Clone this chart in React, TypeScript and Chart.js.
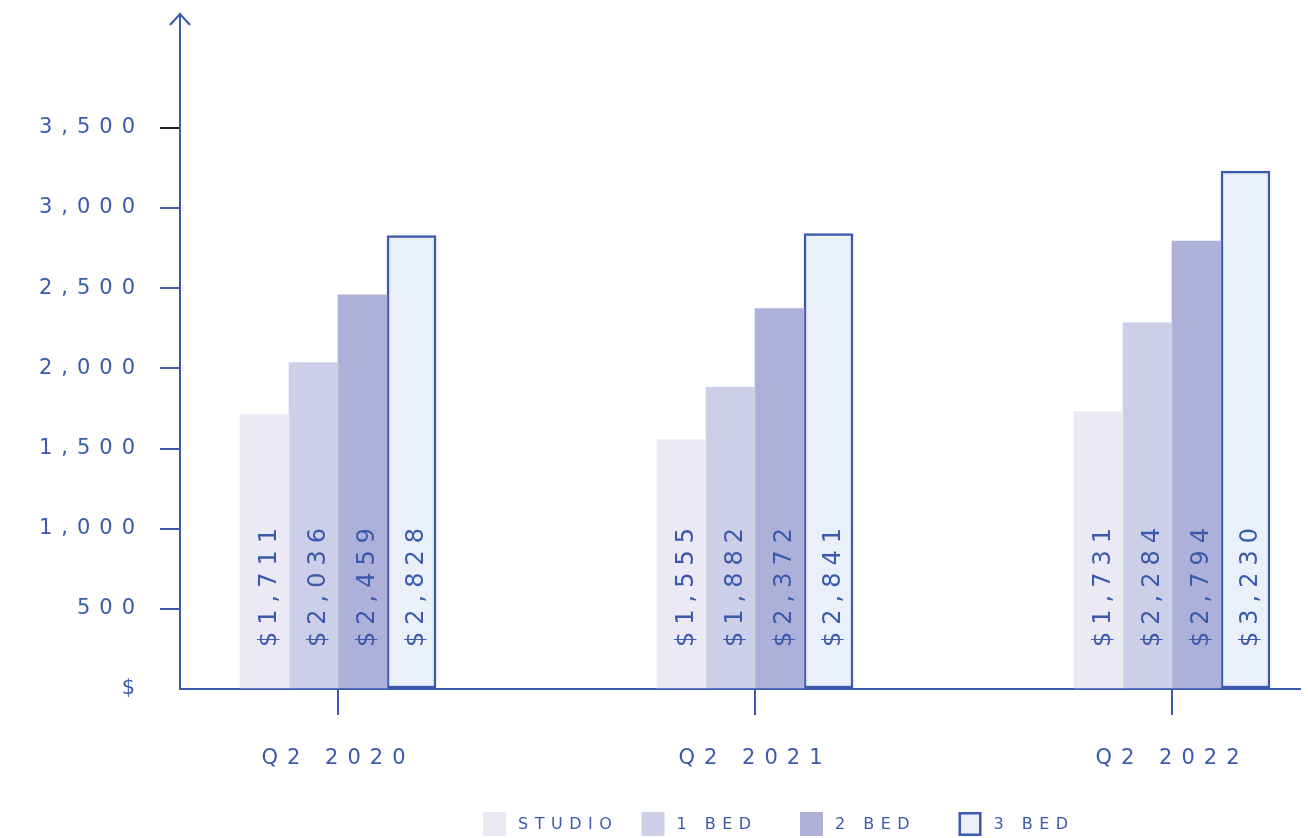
import { useEffect, useRef } from "react";
import { Chart, registerables } from "chart.js";

Chart.register(...registerables);

// ---- data ----
const categories = ["Q2 2020", "Q2 2021", "Q2 2022"];
const seriesLabels = ["STUDIO", "1 BED", "2 BED", "3 BED"];
const studio = [1711, 1555, 1731];
const oneBed = [2036, 1882, 2284];
const twoBed = [2459, 2372, 2794];
const threeBed = [2828, 2841, 3230];
const yTickValues = [0, 500, 1000, 1500, 2000, 2500, 3000, 3500];

// ---- style / layout ----
const BLUE = "#3b5aae";
const DARK = "#222222";
const FONT = "'DejaVu Sans', sans-serif";
const fillColors = ["#ebe9f4", "#cdcee8", "#adb1d9", "#e9f0fa"];
const Y_MAX = 4210;
const X_MIN = -0.379;
const X_MAX = 2.307;
const AXIS_SPACING = "9px";
const LEGEND_SPACING = "6.5px";
const BAR_LABEL_SPACING = "7px";
const LEGEND = { left: 483, step: 158.5, top: 812, boxW: 23, boxH: 24, textGap: 12, fontSize: 16 };

const spacingPlugin = {
  id: "letterSpacing",
  beforeUpdate(chart: any) {
    chart.ctx.letterSpacing = AXIS_SPACING;
  },
  beforeDraw(chart: any) {
    chart.ctx.letterSpacing = AXIS_SPACING;
  },
};

// legend drawn from the datasets (equal-width items, as in the reference)
const legendPlugin = {
  id: "evenLegend",
  afterDraw(chart: any) {
    const ctx = chart.ctx;
    ctx.save();
    ctx.letterSpacing = LEGEND_SPACING;
    ctx.font = `${LEGEND.fontSize}px ${FONT}`;
    ctx.textAlign = "left";
    ctx.textBaseline = "middle";
    chart.data.datasets.forEach((ds: any, i: number) => {
      const x = LEGEND.left + i * LEGEND.step;
      const y = LEGEND.top;
      ctx.fillStyle = ds.backgroundColor;
      ctx.fillRect(x, y, LEGEND.boxW, LEGEND.boxH);
      if (ds.borderWidth > 0) {
        ctx.strokeStyle = ds.borderColor;
        ctx.lineWidth = ds.borderWidth;
        const h = ds.borderWidth / 2;
        ctx.strokeRect(x + h, y + h, LEGEND.boxW - 2 * h, LEGEND.boxH - 2 * h);
      }
      ctx.fillStyle = BLUE;
      ctx.fillText(ds.label, x + LEGEND.boxW + LEGEND.textGap, y + LEGEND.boxH / 2 + 1);
    });
    ctx.restore();
  },
};

const barLabels = {
  id: "barLabels",
  afterDatasetsDraw(chart: any) {
    const ctx = chart.ctx;
    chart.data.datasets.forEach((ds: any, di: number) => {
      const meta = chart.getDatasetMeta(di);
      meta.data.forEach((bar: any, i: number) => {
        const v = ds.data[i].y;
        ctx.save();
        ctx.letterSpacing = BAR_LABEL_SPACING;
        ctx.font = `24px ${FONT}`;
        ctx.fillStyle = BLUE;
        ctx.translate(bar.x + 5, bar.base - 41);
        ctx.rotate(-Math.PI / 2);
        ctx.textAlign = "left";
        ctx.textBaseline = "middle";
        ctx.fillText("$" + v.toLocaleString("en-US"), 0, 0);
        ctx.restore();
      });
    });
  },
};

const axisArrow = {
  id: "axisArrow",
  afterDraw(chart: any) {
    const { left, top } = chart.chartArea;
    const ctx = chart.ctx;
    ctx.save();
    ctx.strokeStyle = BLUE;
    ctx.lineWidth = 2;
    ctx.beginPath();
    ctx.moveTo(left - 10, top + 11);
    ctx.lineTo(left, top);
    ctx.lineTo(left + 10, top + 11);
    ctx.stroke();
    ctx.restore();
  },
};

export default function App() {
  const ref = useRef<HTMLCanvasElement | null>(null);

  useEffect(() => {
    if (!ref.current) return;
    const seriesValues = [studio, oneBed, twoBed, threeBed];
    const datasets = seriesLabels.map((label, s) => ({
      label,
      data: categories.map((_, i) => ({ x: i, y: seriesValues[s][i] })),
      backgroundColor: fillColors[s],
      borderColor: s === 3 ? BLUE : fillColors[s],
      borderWidth: s === 3 ? 2.5 : 0,
      borderSkipped: false,
      barThickness: 49,
    }));

    const chart = new Chart(ref.current, {
      type: "bar",
      data: { datasets } as any,
      options: {
        animation: false,
        responsive: true,
        maintainAspectRatio: false,
        layout: { padding: { top: 14, right: 8, left: 0, bottom: 65 } },
        plugins: {
          tooltip: { enabled: false },
          legend: { display: false },
        },
        scales: {
          x: {
            type: "linear",
            min: X_MIN,
            max: X_MAX,
            offset: false,
            afterBuildTicks: (s: any) => {
              s.ticks = categories.map((_, i) => ({ value: i }));
            },
            afterFit: (s: any) => {
              s.height = 84;
              s.paddingLeft = 0;
              s.paddingRight = 0;
            },
            grid: {
              offset: false,
              drawOnChartArea: false,
              drawTicks: true,
              tickLength: 26,
              color: BLUE,
              lineWidth: 2,
            },
            border: { display: true, color: BLUE, width: 2 },
            ticks: {
              callback: (v: any) => categories[v] ?? "",
              color: BLUE,
              font: { family: FONT, size: 21 },
              padding: 31,
              maxRotation: 0,
              autoSkip: false,
            },
          },
          y: {
            min: 0,
            max: Y_MAX,
            afterBuildTicks: (s: any) => {
              s.ticks = yTickValues.map((v) => ({ value: v }));
            },
            afterFit: (s: any) => {
              s.width = 180;
              s.paddingTop = 0;
              s.paddingBottom = 0;
            },
            grid: {
              drawOnChartArea: false,
              tickLength: 20,
              lineWidth: 2,
              tickColor: (c: any) =>
                c.tick && c.tick.value === 0
                  ? "rgba(0,0,0,0)"
                  : c.tick && c.tick.value === 3500
                  ? DARK
                  : BLUE,
            },
            border: { display: true, color: BLUE, width: 2 },
            ticks: {
              callback: (v: any) => (v === 0 ? "$" : Number(v).toLocaleString("en-US")),
              color: BLUE,
              font: { family: FONT, size: 21 },
              padding: 16,
            },
          },
        },
      } as any,
      plugins: [spacingPlugin, barLabels, axisArrow, legendPlugin],
    });
    return () => chart.destroy();
  }, []);

  return (
    <div style={{ position: "fixed", left: 0, top: 0, width: 1308, height: 838, background: "#fff" }}>
      <canvas ref={ref} />
    </div>
  );
}
